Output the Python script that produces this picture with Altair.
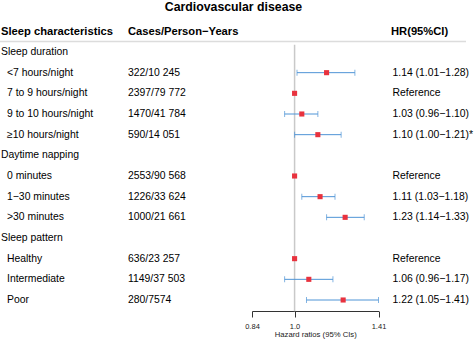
import altair as alt
import pandas as pd

# ---- data ----
labels = ["Sleep duration", "<7 hours/night", "7 to 9 hours/night", "9 to 10 hours/night",
          "≥10 hours/night", "Daytime napping", "0 minutes", "1−30 minutes", ">30 minutes",
          "Sleep pattern", "Healthy", "Intermediate", "Poor"]
is_group = [1, 0, 0, 0, 0, 1, 0, 0, 0, 1, 0, 0, 0]
cases = ["", "322/10 245", "2397/79 772", "1470/41 784", "590/14 051", "",
         "2553/90 568", "1226/33 624", "1000/21 661", "", "636/23 257", "1149/37 503", "280/7574"]
hr = [None, 1.14, 1.00, 1.03, 1.10, None, 1.00, 1.11, 1.23, None, 1.00, 1.06, 1.22]
lo = [None, 1.01, None, 0.96, 1.00, None, None, 1.03, 1.14, None, None, 0.96, 1.05]
hi = [None, 1.28, None, 1.10, 1.21, None, None, 1.18, 1.33, None, None, 1.17, 1.41]
hr_text = ["", "1.14 (1.01−1.28)", "Reference", "1.03 (0.96−1.10)", "1.10 (1.00−1.21)*", "",
           "Reference", "1.11 (1.03−1.18)", "1.23 (1.14−1.33)", "",
           "Reference", "1.06 (0.96−1.17)", "1.22 (1.05−1.41)"]
headers = ["Sleep characteristics", "Cases/Person−Years", "HR(95%CI)"]
title_text = "Cardiovascular disease"
tick_values = [0.84, 1.0, 1.41]
axis_title = "Hazard ratios (95% CIs)"
ref_value = 1.0

df = pd.DataFrame({
    "row": list(range(len(labels))),
    "label": labels,
    "group": is_group,
    "cases": cases,
    "hr": hr,
    "lo": lo,
    "hi": hi,
    "hr_text": hr_text,
})

FONT = "Liberation Sans"
BLUE = "#4f94d6"
RED = "#e8323e"

xscale = alt.Scale(type="log", domain=[0.84, 1.41], range=[252, 378.5], nice=False)
yscale = alt.Scale(domain=[0, 12], range=[52, 300], nice=False, zero=False)
xaxis = alt.Axis(values=tick_values, title=axis_title, grid=False,
                 labelExpr="datum.value == 1 ? '1.0' : format(datum.value, '.2f')")

base = alt.Chart(df)
Y = alt.Y("row:Q", scale=yscale, axis=None)

sep = alt.Chart(pd.DataFrame({"a": [0]})).mark_rule(color="#dcdcdc", strokeWidth=1.5).encode(
    x=alt.value(0), x2=alt.value(466), y=alt.value(41.5))

ref_df = pd.DataFrame({"x": [ref_value], "y0": [-0.35], "y1": [12.55]})
refline = alt.Chart(ref_df).mark_rule(color="#c9c9c9", strokeWidth=1.5).encode(
    x=alt.X("x:Q", scale=xscale, axis=xaxis),
    y=alt.Y("y0:Q", scale=yscale, axis=None),
    y2="y1:Q")

ci = base.transform_filter("isValid(datum.lo)").mark_rule(color=BLUE, strokeWidth=1).encode(
    x=alt.X("lo:Q", scale=xscale, axis=xaxis), x2="hi:Q", y=Y)

cap_lo = base.transform_filter("isValid(datum.lo)").mark_tick(
    color=BLUE, orient="vertical", size=6, thickness=1).encode(
    x=alt.X("lo:Q", scale=xscale, axis=xaxis), y=Y)
cap_hi = base.transform_filter("isValid(datum.hi)").mark_tick(
    color=BLUE, orient="vertical", size=6, thickness=1).encode(
    x=alt.X("hi:Q", scale=xscale, axis=xaxis), y=Y)

pts = base.transform_filter("isValid(datum.hr)").mark_square(
    color=RED, size=26, opacity=1, filled=True).encode(
    x=alt.X("hr:Q", scale=xscale, axis=xaxis), y=Y)

txt_kw = dict(font=FONT, fontSize=10.4, color="#000", align="left", baseline="middle")
grp_txt = base.transform_filter("datum.group == 1").mark_text(**txt_kw).encode(
    x=alt.value(1), y=Y, text="label:N")
sub_txt = base.transform_filter("datum.group == 0").mark_text(**txt_kw).encode(
    x=alt.value(7), y=Y, text="label:N")
case_txt = base.transform_filter("datum.group == 0").mark_text(**txt_kw).encode(
    x=alt.value(128), y=Y, text="cases:N")
hr_txt = base.transform_filter("datum.group == 0").mark_text(**txt_kw).encode(
    x=alt.value(392.5), y=Y, text="hr_text:N")

hdr_x = [1, 128, 391]
hdr_df = pd.DataFrame({"t": headers, "px": hdr_x})
hdr_layers = [
    alt.Chart(hdr_df).transform_filter(alt.datum.t == h).mark_text(
        font=FONT, fontSize=11.2, fontWeight="bold", color="#000", align="left",
        baseline="alphabetic").encode(x=alt.value(hx), y=alt.value(35), text="t:N")
    for h, hx in zip(headers, hdr_x)
]
title = alt.Chart(pd.DataFrame({"t": [title_text]})).mark_text(
    font=FONT, fontSize=12.3, fontWeight="bold", color="#000", align="center",
    baseline="alphabetic").encode(x=alt.value(233.5), y=alt.value(11.2), text="t:N")

chart = alt.layer(
    sep, refline, ci, cap_lo, cap_hi, pts, grp_txt, sub_txt, case_txt, hr_txt, title, *hdr_layers
).properties(
    width=474, height=311,
    autosize=alt.AutoSizeParams(type="none"),
    padding={"left": 0, "top": 0, "right": 0, "bottom": 29},
).configure_view(stroke=None).configure_axis(
    domainColor="#333", tickColor="#333", tickSize=6, domainWidth=1, tickWidth=1,
    labelFont=FONT, titleFont=FONT, labelFontSize=7.5, titleFontSize=7.7,
    titleFontWeight="normal", labelColor="#222", titleColor="#222",
    labelPadding=5, titlePadding=1, labelFlush=False, labelOverlap=False,
)

chart.save("out.html", embed_options={"renderer": "svg", "actions": False})
